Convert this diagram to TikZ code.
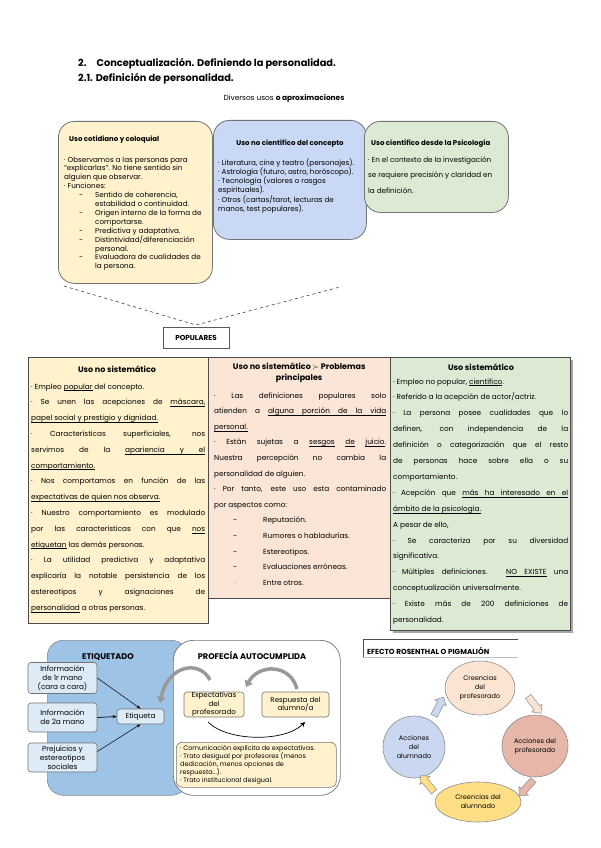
\documentclass[tikz,border=0pt]{standalone}
\usepackage{fontspec}
\setmainfont{Poppins}
\usetikzlibrary{arrows.meta,shapes.arrows,shapes.geometric}
\definecolor{cy}{HTML}{FFF2CC}
\definecolor{cp}{HTML}{FBE5D6}
\definecolor{cg}{HTML}{DCEAD4}
\definecolor{cb}{HTML}{C9D8F4}
\definecolor{bb}{HTML}{9DC3E6}
\definecolor{lb}{HTML}{DDEBF7}
\definecolor{epeach}{HTML}{FCE4D2}
\definecolor{epink}{HTML}{E6B7A9}
\definecolor{egold}{HTML}{FFDF86}
\definecolor{eblue}{HTML}{C9D7F0}
\newcommand\TB[3]{\vtop{\hsize=#1\relax\baselineskip=#2\relax\lineskiplimit=-\maxdimen\parindent=0pt #3}}
\newcommand\JL[1]{\hbox to\hsize{#1}}
\newcommand\LL[1]{\hbox to\hsize{#1\hfil}}
\newcommand\CC[1]{\hbox to\hsize{\hfil#1\hfil}}
\newcommand\DL[3]{\hbox to\hsize{\hskip#1\relax\hbox to #2{-\hfil}#3\hfil}}
\newcommand\CL[2]{\hbox to\hsize{\hskip#1\relax #2\hfil}}
\newcommand\U[1]{\setbox0\hbox{#1}\rlap{\vrule height -1.3pt depth 1.8pt width\wd0}\box0\relax}
\newcommand\usp{\leaders\hrule height -1.3pt depth 1.8pt\hskip\fontdimen2\font plus\fontdimen3\font minus\fontdimen4\font\relax}
\tikzset{
  box/.style={draw=black!55, line width=0.8pt, rounded corners=16pt, anchor=north west, inner sep=0pt},
  cell/.style={draw=black!70, line width=0.8pt, anchor=north west, inner sep=0pt},
  txt/.style={inner sep=0pt, anchor=base west},
  ctxt/.style={inner sep=0pt, anchor=base},
  tfont/.style={font=\fontsize{7.2}{9}\selectfont},
  ttit/.style={font=\fontsize{7}{9}\selectfont\bfseries},
  cfont/.style={font=\fontsize{7.3}{9}\selectfont},
  ctit/.style={font=\fontsize{8}{10}\selectfont\bfseries},
  ibox/.style={draw=black!55, fill=lb, line width=0.6pt, rounded corners=3pt, inner sep=0pt, align=center, font=\fontsize{7.3}{9}\selectfont},
  ybox/.style={draw=black!55, fill=cy, line width=0.6pt, rounded corners=3pt, inner sep=0pt, align=center, font=\fontsize{7.1}{8.6}\selectfont},
  ell/.style={ellipse, draw=black!45, line width=0.6pt, inner sep=0pt, align=center, font=\fontsize{6.6}{9}\selectfont},
  garrow/.style={draw=black!40, line width=3.5pt, -{Triangle[width=9pt,length=6pt]}},
  barrow/.style={single arrow, draw=black!45, line width=0.5pt, inner sep=3.2pt, single arrow head extend=3pt, minimum height=21pt, single arrow tip angle=90},
}
\begin{document}
\begin{tikzpicture}[x=1pt,y=-1pt]
\useasboundingbox (0,0) rectangle (600,848);
\fill[white] (0,0) rectangle (600,848);

% headings
\node[txt, font=\fontsize{9.8}{11}\selectfont\bfseries] (h1) at (78,67) {2.\hskip 10pt Conceptualización. Definiendo la personalidad.};
\node[txt, font=\fontsize{9.8}{11}\selectfont\bfseries] (h2) at (78,82) {2.1. Definición de personalidad.};
\node[ctxt, font=\fontsize{7.4}{9}\selectfont] (h3) at (284,101) {Diversos usos \textbf{o aproximaciones}};

% top boxes
\node[box, fill=cy, minimum width=154pt, minimum height=162pt] (b1) at (58,121) {};
\node[box, fill=cb, minimum width=153pt, minimum height=119pt] (b2) at (213,120) {};
\node[box, fill=cg, minimum width=144pt, minimum height=91pt] (b3) at (364,121) {};

\node[txt, ttit] (t1) at (69,142) {Uso cotidiano y coloquial};
\node[txt, tfont] (p1) at (64,162) {\TB{145pt}{8.9pt}{%
\LL{· Observamos a las personas para}
\LL{“explicarlas”. No tiene sentido sin}
\LL{alguien que observar.}
\LL{· Funciones:}
\DL{15pt}{16pt}{Sentido de coherencia,}
\CL{31pt}{estabilidad o continuidad.}
\DL{15pt}{16pt}{Origen interno de la forma de}
\CL{31pt}{comportarse.}
\DL{15pt}{16pt}{Predictiva y adaptativa.}
\DL{15pt}{16pt}{Distintividad/diferenciación}
\CL{31pt}{personal.}
\DL{15pt}{16pt}{Evaluadora de cualidades de}
\CL{31pt}{la persona.}}};

\node[ctxt, ttit] (t2) at (290,146) {Uso no científico del concepto};
\node[txt, tfont] (p2) at (218,165) {\TB{150pt}{9.3pt}{%
\LL{· Literatura, cine y teatro (personajes).}
\LL{· Astrología (futuro, astro, horóscopo).}
\LL{· Tecnología (valores o rasgos}
\LL{espirituales).}
\LL{· Otros (cartas/tarot, lecturas de}
\LL{manos, test populares).}}};

\node[txt, ttit] (t3) at (371,145) {Uso científico desde la Psicología};
\node[txt, tfont] (p3) at (368,162) {\TB{135pt}{15.5pt}{%
\LL{· En el contexto de la investigación}
\LL{se requiere precisión y claridad en}
\LL{la definición.}}};

% dashed lines and POPULARES
\coordinate (dl) at (64,286);
\coordinate (dr) at (340,287);
\coordinate (apex) at (196,325);
\node[draw=black!65, line width=0.8pt, minimum width=66pt, minimum height=21pt, inner sep=0pt, font=\fontsize{7.2}{8}\selectfont\bfseries] (pop) at (196,338) {POPULARES};
\draw[dashed, line width=0.6pt, black!75] (dl) -- (apex) -- (dr);

% table columns
\node[cell, fill=cy, minimum width=180pt, minimum height=266pt] (c1) at (28,357) {};
\node[cell, fill=cp, minimum width=182pt, minimum height=241pt] (c2) at (208,357) {};
\fill[black!35] (393,360) rectangle (573,633);
\node[cell, fill=cg, minimum width=180pt, minimum height=273pt] (c3) at (390,357) {};

\node[ctxt, ctit] (ct1) at (117,372) {Uso no sistemático};
\node[txt, cfont] (cp1) at (31,389) {\TB{174pt}{15.8pt}{%
\LL{· Empleo \U{popular} del concepto.}
\JL{· Se unen las acepciones de \U{máscara,}}
\LL{\U{papel}\usp\U{social}\usp\U{y}\usp\U{prestigio}\usp\U{y}\usp\U{dignidad.}}
\JL{· Características superficiales, nos}
\JL{servimos de la \U{apariencia}\usp\U{y}\usp\U{el}}
\LL{\U{comportamiento.}}
\JL{· Nos comportamos en función de las}
\LL{\U{expectativas}\usp\U{de}\usp\U{quien}\usp\U{nos}\usp\U{observa.}}
\JL{· Nuestro comportamiento es modulado}
\JL{por las características con que \U{nos}}
\LL{\U{etiquetan} las demás personas.}
\JL{· La utilidad predictiva y adaptativa}
\JL{explicaría la notable persistencia de los}
\JL{estereotipos y asignaciones de}
\LL{\U{personalidad} a otras personas.}}};

\node[txt, ctit] (ct2) at (209,369) {\TB{180pt}{11pt}{%
\CC{Uso no sistemático $\succ$ Problemas}
\CC{principales}}};
\node[txt, cfont] (cp2) at (214,398) {\TB{172pt}{15.6pt}{%
\JL{· Las definiciones populares solo}
\JL{atienden a \U{alguna}\usp\U{porción}\usp\U{de}\usp\U{la}\usp\U{vida}}
\LL{\U{personal.}}
\JL{· Están sujetas a \U{sesgos} \U{de} \U{juicio}.}
\JL{Nuestra percepción no cambia la}
\LL{personalidad de alguien.}
\JL{· Por tanto, este uso esta contaminado}
\LL{por aspectos como:}
\DL{19pt}{30pt}{Reputación.}
\DL{19pt}{30pt}{Rumores o habladurías.}
\DL{19pt}{30pt}{Estereotipos.}
\DL{19pt}{30pt}{Evaluaciones erróneas.}
\hbox to\hsize{\hskip19pt\hbox to 30pt{\color{black!30}-\hfil}Entre otros.\hfil}}};

\node[ctxt, ctit] (ct3) at (481,370) {Uso sistemático};
\node[txt, cfont] (cp3) at (393,384) {\TB{175pt}{15.9pt}{%
\LL{· Empleo no popular, \U{científico}.}
\LL{· Referido a la acepción de actor/actriz.}
\JL{· La persona posee cualidades que lo}
\JL{definen, con independencia de la}
\JL{definición o categorización que el resto}
\JL{de personas hace sobre ella o su}
\LL{comportamiento.}
\JL{· Acepción que \U{más}\usp\U{ha}\usp\U{interesado}\usp\U{en}\usp\U{el}}
\LL{\U{ámbito}\usp\U{de}\usp\U{la}\usp\U{psicología.}}
\LL{A pesar de ello,}
\JL{· Se caracteriza por su diversidad}
\LL{significativa.}
\JL{· Múltiples definiciones. \U{NO}\usp\U{EXISTE} una}
\LL{conceptualización universalmente.}
\JL{· Existe más de 200 definiciones de}
\LL{personalidad.}}};

% bottom-left diagram
\node[draw=black!45, fill=bb, line width=0.6pt, rounded corners=16pt, minimum width=140pt, minimum height=155pt, anchor=north west, inner sep=0pt] (blue) at (47,640) {};
\node[draw=black!55, fill=white, line width=0.7pt, rounded corners=20pt, minimum width=167pt, minimum height=155pt, anchor=north west, inner sep=0pt] (white) at (173,640) {};
\node[ctxt, font=\fontsize{8.2}{9}\selectfont\bfseries] (et) at (108,659) {ETIQUETADO};
\node[ctxt, font=\fontsize{8.2}{9}\selectfont\bfseries] (pa) at (252,659) {PROFECÍA AUTOCUMPLIDA};

\node[ibox, minimum width=69pt, minimum height=31pt] (i1) at (62.5,678) {Información\\de 1r mano\\(cara a cara)};
\node[ibox, minimum width=69pt, minimum height=29pt] (i2) at (62.5,717.5) {Información\\de 2a mano};
\node[ibox, minimum width=69pt, minimum height=29pt] (i3) at (62.5,757.5) {Prejuicios y\\estereotipos\\sociales};
\node[ibox, minimum width=47pt, minimum height=15pt] (eti) at (140.5,716.5) {Etiqueta};
\draw[-{Stealth[length=4pt,width=3pt]}, line width=0.5pt] (i1.east) -- (eti.north);
\draw[-{Stealth[length=4pt,width=3pt]}, line width=0.7pt] (i2.east) -- (eti.west);
\draw[-{Stealth[length=4pt,width=3pt]}, line width=0.5pt] (i3.east) ++(0,-6) -- (eti.south);

\node[ybox, minimum width=60pt, minimum height=25pt] (exp) at (214,704.5) {Expectativas\\del\\profesorado};
\node[ybox, minimum width=67pt, minimum height=25pt] (resp) at (295.5,704.5) {Respuesta del\\alumno/a};
\node[draw=black!55, fill=cy, line width=0.6pt, rounded corners=6pt, minimum width=160pt, minimum height=45pt, anchor=north west, inner sep=0pt] (list) at (176,742) {};
\node[txt, font=\fontsize{6.5}{7}\selectfont] (listt) at (180,750) {\TB{154pt}{8.2pt}{%
\LL{· Comunicación explícita de expectativas.}
\LL{· Trato desigual por profesores (menos}
\LL{dedicación, menos opciones de}
\LL{respuesta...).}
\LL{· Trato institucional desigual.}}};

\coordinate (g1s) at (210,680);
\coordinate (g1e) at (160,703);
\coordinate (g2s) at (297,689);
\coordinate (g2e) at (246,687);
\draw[garrow] (g1s) .. controls (200,660) and (168,664) .. (g1e);
\draw[garrow] (g2s) .. controls (290,663) and (258,664) .. (g2e);
\coordinate (tc1) at (208,722);
\coordinate (tc2) at (305,722);
\draw[line width=0.7pt, -{Stealth[length=5pt,width=5pt]}] (tc1) .. controls (228,742) and (285,742) .. (tc2);

% bottom-right diagram
\coordinate (rf1) at (518,639);
\coordinate (rf2) at (363,639);
\coordinate (rf3) at (363,657);
\coordinate (rf4) at (518,657);
\draw[black!70, line width=0.8pt] (rf1) -- (rf2) -- (rf3);
\draw[black!25, line width=0.6pt] (rf3) -- (rf4);
\node[txt, font=\fontsize{7.3}{8}\selectfont\bfseries] (ros) at (367,654) {EFECTO ROSENTHAL O PIGMALIÓN};
\node[ell, fill=epeach, minimum width=70pt, minimum height=54pt] (cpf) at (480,688) {Creencias\\del\\profesorado};
\node[ell, fill=epink, minimum width=66pt, minimum height=62pt] (apf) at (535,746) {Acciones del\\profesorado};
\node[ell, fill=egold, minimum width=86pt, minimum height=40pt] (cal) at (478,802) {Creencias del\\alumnado};
\node[ell, fill=eblue, minimum width=62pt, minimum height=62pt] (aal) at (414,747) {Acciones\\del\\alumnado};
\node[barrow, fill=eblue, rotate=63] (a1) at (438,708) {};
\node[barrow, fill=epeach, rotate=-53] (a2) at (533.5,703.5) {};
\node[barrow, fill=epink, rotate=228] (a3) at (527.5,786.5) {};
\node[barrow, fill=egold, rotate=129] (a4) at (428.5,785) {};
\end{tikzpicture}
\end{document}
